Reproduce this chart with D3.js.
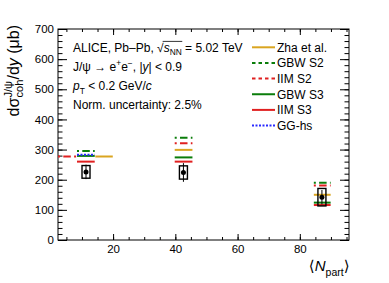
<!DOCTYPE html>
<html>
<head>
<meta charset="utf-8">
<script src="https://cdn.jsdelivr.net/npm/d3@7"></script>
<style>
  body { margin: 0; background: #fff; }
  svg { font-family: 'Liberation Sans', Arial, 'DejaVu Sans', sans-serif; }
</style>
</head>
<body>
<script>
const width = 389;
const height = 283;
const margin = { top: 29, right: 40, bottom: 43, left: 58 };

// measured points
const npart = [11.3, 42.6, 87.1];
const xsec = [226, 224, 142];
const statErr = [24, 31, 24];
const systErr = [21, 22, 29];

// model predictions, per centrality class
const binLo = [8.4, 39.8, 84.5];
const binHi = [14.1, 45.5, 89.9];
const zhaLo = [14.3, 39.8, 84.5];
const zhaHi = [19.9, 45.5, 89.9];
const iimS2Lo = [2.3, 39.8, 84.5];
const iimS2Hi = [8.3, 45.5, 89.9];
const zha = [277, 299, 150];
const gbwS2 = [295, 339, 190];
const iimS2 = [277, 321, 181];
const gbwS3 = [279, 274, 124];
const iimS3 = [260, 260, 116];
const ggHs = [283, null, null];

const modelNames = ['Zha et al.', 'GBW S2', 'IIM S2', 'GBW S3', 'IIM S3', 'GG-hs'];
const xTicks = [20, 40, 60, 80];
const yTicks = [0, 100, 200, 300, 400, 500, 600, 700];

const gold = '#daa520';
const green = '#0a7d0a';
const red = '#e02020';
const blue = '#2a2aff';

const models = [
    { name: modelNames[0], vals: zha, lo: zhaLo, hi: zhaHi, color: gold, dash: null, legDash: null },
    { name: modelNames[1], vals: gbwS2, lo: binLo, hi: binHi, color: green, dash: '2,3.3,7.5,3.3', legDash: '3.5,3' },
    { name: modelNames[2], vals: iimS2, lo: iimS2Lo, hi: iimS2Hi, color: red, dash: '2,3.3,7.5,3.3', legDash: '3.5,3' },
    { name: modelNames[3], vals: gbwS3, lo: binLo, hi: binHi, color: green, dash: null, legDash: null },
    { name: modelNames[4], vals: iimS3, lo: binLo, hi: binHi, color: red, dash: null, legDash: null },
    { name: modelNames[5], vals: ggHs, lo: binLo, hi: binHi, color: blue, dash: '2,1.5', legDash: '2,1.5' }
];

const svg = d3.select('body')
    .append('svg')
    .attr('width', width)
    .attr('height', height);

const x = d3.scaleLinear()
    .domain([2.3, 95.8])
    .range([margin.left, width - margin.right]);

const y = d3.scaleLinear()
    .domain([0, 700])
    .range([height - margin.bottom, margin.top]);

const x0 = x.range()[0], x1 = x.range()[1];
const y0 = y.range()[0], y1 = y.range()[1];

// axes, ticks inside like ROOT
const xMinor = d3.range(5, 96, 5);
const yMinor = d3.range(0, 701, 20);

const tickStyle = (g) => {
    g.select('.domain').remove();
    g.selectAll('line').attr('stroke', '#000').attr('stroke-width', 1);
    g.selectAll('text').attr('font-size', 11.5).attr('fill', '#000')
        .attr('font-family', "'Liberation Sans', Arial, sans-serif");
};

svg.append('g')
    .attr('transform', `translate(0,${y0})`)
    .call(d3.axisBottom(x).tickValues(xMinor).tickSize(-3).tickFormat(''))
    .call(tickStyle);
svg.append('g')
    .attr('transform', `translate(0,${y0})`)
    .call(d3.axisBottom(x).tickValues(xTicks).tickSize(-6).tickPadding(5))
    .call(tickStyle);
svg.append('g')
    .attr('transform', `translate(0,${y1})`)
    .call(d3.axisTop(x).tickValues(xMinor).tickSize(-3).tickFormat(''))
    .call(tickStyle);
svg.append('g')
    .attr('transform', `translate(0,${y1})`)
    .call(d3.axisTop(x).tickValues(xTicks).tickSize(-6).tickFormat(''))
    .call(tickStyle);

svg.append('g')
    .attr('transform', `translate(${x0},0)`)
    .call(d3.axisLeft(y).tickValues(yMinor).tickSize(-4.5).tickFormat(''))
    .call(tickStyle);
svg.append('g')
    .attr('transform', `translate(${x0},0)`)
    .call(d3.axisLeft(y).tickValues(yTicks).tickSize(-9).tickPadding(4))
    .call(tickStyle);
svg.append('g')
    .attr('transform', `translate(${x1},0)`)
    .call(d3.axisRight(y).tickValues(yMinor).tickSize(-4.5).tickFormat(''))
    .call(tickStyle);
svg.append('g')
    .attr('transform', `translate(${x1},0)`)
    .call(d3.axisRight(y).tickValues(yTicks).tickSize(-9).tickFormat(''))
    .call(tickStyle);

svg.append('rect')
    .attr('x', x0)
    .attr('y', y1)
    .attr('width', x1 - x0)
    .attr('height', y0 - y1)
    .attr('fill', 'none')
    .attr('stroke', '#000')
    .attr('stroke-width', 1);

// model lines
models.forEach((m) => {
    const segs = m.vals.map((v, i) => ({ v: v, lo: m.lo[i], hi: m.hi[i] }))
        .filter((d) => d.v !== null);
    svg.append('g')
        .selectAll('line')
        .data(segs)
        .enter()
        .append('line')
        .attr('x1', (d) => x(d.lo))
        .attr('x2', (d) => x(d.hi))
        .attr('y1', (d) => y(d.v))
        .attr('y2', (d) => y(d.v))
        .attr('stroke', m.color)
        .attr('stroke-width', 2)
        .attr('stroke-dasharray', m.dash);
});

// data points
const pts = npart.map((n, i) => ({ n: n, v: xsec[i], stat: statErr[i], syst: systErr[i] }));
const boxW = 8;

const dataG = svg.append('g');
dataG.selectAll('rect')
    .data(pts)
    .enter()
    .append('rect')
    .attr('x', (d) => x(d.n) - boxW / 2)
    .attr('y', (d) => y(d.v + d.syst))
    .attr('width', boxW)
    .attr('height', (d) => y(d.v - d.syst) - y(d.v + d.syst))
    .attr('fill', 'none')
    .attr('stroke', '#000')
    .attr('stroke-width', 1.4);
dataG.selectAll('line')
    .data(pts)
    .enter()
    .append('line')
    .attr('x1', (d) => x(d.n))
    .attr('x2', (d) => x(d.n))
    .attr('y1', (d) => y(d.v + d.stat))
    .attr('y2', (d) => y(d.v - d.stat))
    .attr('stroke', '#000')
    .attr('stroke-width', 1);
dataG.selectAll('circle')
    .data(pts)
    .enter()
    .append('circle')
    .attr('cx', (d) => x(d.n))
    .attr('cy', (d) => y(d.v))
    .attr('r', 2.5)
    .attr('fill', '#000');

// rich text helper: parts = [{t, it, sub, sup, back}]
function richText(g, px, py, size, parts, anchor) {
    const t = g.append('text')
        .attr('x', px)
        .attr('y', py)
        .attr('font-size', size)
        .attr('fill', '#000')
        .attr('text-anchor', anchor || 'start');
    let shift = 0;
    const nodes = [];
    parts.forEach((p) => {
        const s = p.sub || p.sup ? size * 0.7 : size;
        const target = p.sub ? size * 0.3 : p.sup ? -size * 0.4 : 0;
        const ts = t.append('tspan')
            .text(p.t)
            .attr('font-size', s)
            .attr('dy', target - shift);
        if (p.dx) ts.attr('dx', p.dx);
        if (p.it) ts.attr('font-style', 'italic');
        shift = target;
        nodes.push(ts);
    });
    return { text: t, nodes: nodes };
}

// text block
const info = svg.append('g');
const l1 = richText(info, 73, 51.7, 12, [
    { t: 'ALICE, Pb\u2013Pb, \u221A' },
    { t: 's', it: true },
    { t: 'NN', sub: true },
    { t: ' = 5.02 TeV' }
]);
const sNode = l1.nodes[1].node();
const nnNode = l1.nodes[2].node();
const olx0 = sNode.getStartPositionOfChar(0).x;
const olx1 = nnNode.getEndPositionOfChar(1).x;
info.append('line')
    .attr('x1', olx0 - 1)
    .attr('x2', olx1 + 0.5)
    .attr('y1', 51.7 - 10.3)
    .attr('y2', 51.7 - 10.3)
    .attr('stroke', '#000')
    .attr('stroke-width', 0.8);

richText(info, 73, 71, 12, [
    { t: 'J/\u03C8 \u2192 e' },
    { t: '+', sup: true },
    { t: 'e' },
    { t: '\u2212', sup: true },
    { t: ', |' },
    { t: 'y', it: true },
    { t: '| < 0.9' }
]);
richText(info, 73, 90.3, 12, [
    { t: 'p', it: true },
    { t: 'T', sub: true },
    { t: ' < 0.2 GeV/' },
    { t: 'c', it: true }
]);
richText(info, 73, 109.3, 12, [{ t: 'Norm. uncertainty: 2.5%' }]);

// legend
const legY0 = 47.3;
const legStep = 15.65;
const leg = svg.append('g');
models.forEach((m, i) => {
    const ly = legY0 + i * legStep;
    leg.append('line')
        .attr('x1', 252)
        .attr('x2', 275)
        .attr('y1', ly)
        .attr('y2', ly)
        .attr('stroke', m.color)
        .attr('stroke-width', 2)
        .attr('stroke-dasharray', m.legDash);
    leg.append('text')
        .attr('x', 277)
        .attr('y', ly + 4.4)
        .attr('font-size', 12)
        .attr('fill', '#000')
        .text(m.name);
});

// axis titles
const yTitle = svg.append('g')
    .attr('transform', 'translate(18.5,25) rotate(-90)');
const yt = richText(yTitle, 0, 0, 16, [
    { t: 'd\u03C3' },
    { t: 'J/\u03C8', sup: true },
    { t: 'coh', sub: true },
    { t: '/d' },
    { t: 'y', it: true },
    { t: ' (\u03BCb)' }
], 'end');
const supLen = yt.nodes[1].node().getComputedTextLength();
const subLen = yt.nodes[2].node().getComputedTextLength();
yt.nodes[2].attr('dx', -supLen);
if (supLen > subLen) yt.nodes[3].attr('dx', supLen - subLen);

richText(svg, 349.5, 271, 15, [
    { t: '\u27E8' },
    { t: 'N', it: true },
    { t: 'part', sub: true },
    { t: '\u27E9' }
], 'end');
</script>
</body>
</html>
